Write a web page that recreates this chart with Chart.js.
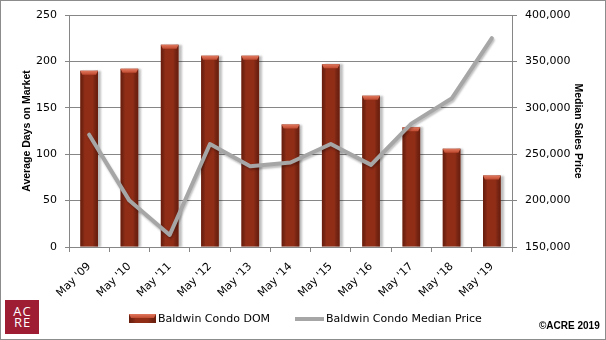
<!DOCTYPE html>
<html>
<head>
<meta charset="utf-8">
<script src="https://cdn.jsdelivr.net/npm/chart.js@4"></script>
<style>
  html, body { margin: 0; padding: 0; background: #fff; }
  #wrap { position: relative; width: 606px; height: 340px; overflow: hidden; }
  #frame { position: absolute; left: 0; top: 0; width: 604px; height: 338px; border: 1px solid #8c8c8c; pointer-events: none; }
  canvas { position: absolute; left: 0; top: 0; }
  #logo { position: absolute; left: 5px; top: 300px; width: 34px; height: 34px; background: #9e1d33; color: #fff;
          font-family: "Open Sans", "DejaVu Sans", sans-serif; font-size: 13px; line-height: 11px; text-align: center;
          letter-spacing: 1px; padding-top: 6px; padding-left: 1px; box-sizing: border-box; }
  #copy { position: absolute; left: 539px; top: 320px; font-family: "Liberation Sans", Arial, sans-serif; font-weight: bold;
          font-size: 10px; color: #000; white-space: nowrap; }
</style>
</head>
<body>
<div id="wrap">
  <canvas id="c" width="606" height="340"></canvas>
  <div id="logo">AC<br>RE</div>
  <div id="copy">©ACRE 2019</div>
  <div id="frame"></div>
</div>
<script>
const categories = ["May '09", "May '10", "May '11", "May '12", "May '13", "May '14", "May '15", "May '16", "May '17", "May '18", "May '19"];
const domValues = [190, 192, 218, 206, 206, 132, 197, 163, 129, 106, 77];
const priceValues = [271000, 200000, 163000, 261000, 237000, 241000, 261000, 238500, 283000, 310000, 375000];
const domLabel = "Baldwin Condo DOM";
const priceLabel = "Baldwin Condo Median Price";
const leftTitle = "Average Days on Market";
const rightTitle = "Median Sales Price";

const GRID = '#868686';
const BAR = '#8f2d17';
const LINE = '#a6a6a6';
const tickFont = { family: '"DejaVu Sans", sans-serif', size: 11 };
const titleFont = { family: '"Liberation Sans", Arial, sans-serif', size: 10.5, weight: 'bold' };

function shadeBar(ctx, x0, y0, w, h) {
  const g = ctx.createLinearGradient(x0, 0, x0 + w, 0);
  g.addColorStop(0, 'rgba(60,10,0,0.45)');
  g.addColorStop(0.25, 'rgba(0,0,0,0)');
  g.addColorStop(0.7, 'rgba(0,0,0,0)');
  g.addColorStop(1, 'rgba(60,10,0,0.45)');
  ctx.fillStyle = g;
  ctx.fillRect(x0, y0, w, h);
  // top cap
  const capH = Math.min(4, h);
  const cg = ctx.createLinearGradient(0, y0, 0, y0 + capH);
  cg.addColorStop(0, '#e0795f');
  cg.addColorStop(1, '#c04a30');
  ctx.fillStyle = cg;
  ctx.beginPath();
  ctx.moveTo(x0, y0);
  ctx.lineTo(x0 + w, y0);
  ctx.lineTo(x0 + w - 2, y0 + capH);
  ctx.lineTo(x0 + 2, y0 + capH);
  ctx.closePath();
  ctx.fill();
}

const barStyler = {
  id: 'barStyler',
  beforeDatasetDraw(chart, args) {
    const ds = chart.data.datasets[args.index];
    const ctx = chart.ctx;
    ctx.save();
    if (ds.type === 'line') {
      ctx.shadowColor = 'rgba(0,0,0,0.25)';
      ctx.shadowOffsetX = 1; ctx.shadowOffsetY = 2; ctx.shadowBlur = 2;
    } else {
      ctx.shadowColor = 'rgba(0,0,0,0.25)';
      ctx.shadowOffsetX = 3; ctx.shadowOffsetY = 0; ctx.shadowBlur = 2;
    }
  },
  afterDatasetDraw(chart, args) {
    const ctx = chart.ctx;
    ctx.restore();
    const ds = chart.data.datasets[args.index];
    if (ds.type === 'line') return;
    args.meta.data.forEach(el => {
      const w = el.width, x0 = el.x - w / 2;
      shadeBar(ctx, x0, el.y, w, el.base - el.y);
    });
  }
};

const legendDrawer = {
  id: 'legendDrawer',
  afterDraw(chart) {
    const ctx = chart.ctx;
    const ds = chart.data.datasets;
    const bar = ds.find(d => d.type !== 'line');
    const line = ds.find(d => d.type === 'line');
    const y = 319;
    ctx.save();
    ctx.font = '11px "DejaVu Sans", sans-serif';
    ctx.textBaseline = 'middle';
    ctx.fillStyle = bar.backgroundColor;
    ctx.fillRect(129, y - 5, 27, 9);
    shadeBar(ctx, 129, y - 5, 27, 9);
    ctx.fillStyle = '#000';
    ctx.fillText(bar.label, 158, y);
    ctx.strokeStyle = line.borderColor;
    ctx.lineWidth = 4;
    ctx.beginPath();
    ctx.moveTo(295, y); ctx.lineTo(324, y);
    ctx.stroke();
    ctx.fillText(line.label, 326, y);
    ctx.restore();
  }
};

new Chart(document.getElementById('c'), {
  type: 'bar',
  data: {
    labels: categories,
    datasets: [
      {
        type: 'line', label: priceLabel, data: priceValues, yAxisID: 'y1',
        borderColor: LINE, backgroundColor: LINE, borderWidth: 4, pointRadius: 0,
        tension: 0, order: 0, borderJoinStyle: 'round', borderCapStyle: 'round'
      },
      {
        type: 'bar', label: domLabel, data: domValues, yAxisID: 'y',
        backgroundColor: BAR, borderWidth: 0, barPercentage: 0.44, categoryPercentage: 1, order: 1
      }
    ]
  },
  options: {
    responsive: false,
    animation: false,
    devicePixelRatio: 1,
    layout: { padding: { top: 15, left: 0, right: 0, bottom: 0 } },
    plugins: { legend: { display: false }, tooltip: { enabled: false } },
    scales: {
      x: {
        offset: true,
        grid: { offset: true, drawOnChartArea: false, drawTicks: true, tickLength: 5, color: GRID },
        border: { color: GRID },
        ticks: { minRotation: 45, maxRotation: 45, font: tickFont, color: '#000', padding: 8, autoSkip: false },
        afterFit(s) { s.height = 93; }
      },
      y: {
        position: 'left', min: 0, max: 250,
        ticks: { stepSize: 50, font: tickFont, color: '#000', padding: 8 },
        grid: { color: GRID, tickLength: 4 },
        border: { color: GRID },
        title: { display: true, text: leftTitle, font: titleFont, color: '#000', padding: { top: 20.7, bottom: 0 } },
        afterFit(s) { s.width = 69; }
      },
      y1: {
        position: 'right', min: 150000, max: 400000,
        ticks: { stepSize: 50000, font: tickFont, color: '#000', padding: 8,
                 callback: v => v.toLocaleString('en-US') },
        grid: { drawOnChartArea: false, color: GRID, tickLength: 5 },
        border: { color: GRID },
        title: { display: true, text: rightTitle, font: titleFont, color: '#000', padding: { top: 21.7, bottom: 0 } },
        afterFit(s) { s.width = 94; }
      }
    }
  },
  plugins: [barStyler, legendDrawer]
});
</script>
</body>
</html>
